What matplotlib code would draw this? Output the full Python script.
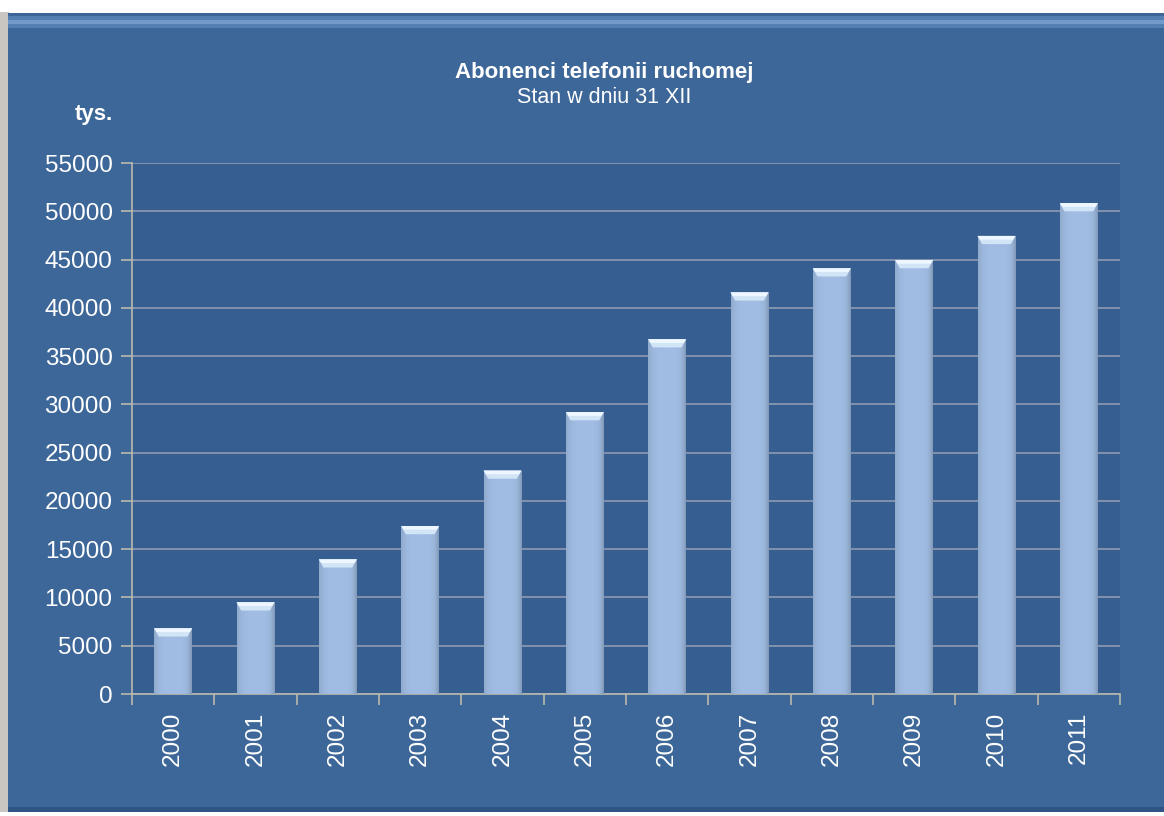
import numpy as np
import matplotlib
matplotlib.use("Agg")
import matplotlib.pyplot as plt
from matplotlib.patches import Rectangle, Polygon

years = ["2000", "2001", "2002", "2003", "2004", "2005",
         "2006", "2007", "2008", "2009", "2010", "2011"]
subscribers = [6800, 9500, 13950, 17400, 23150, 29200,
               36750, 41600, 44100, 44950, 47450, 50850]
y_ticks = list(range(0, 55001, 5000))

title = "Abonenci telefonii ruchomej"
subtitle = "Stan w dniu 31 XII"
unit = "tys."

plt.rcParams["font.family"] = ["Liberation Sans", "DejaVu Sans"]

PANEL = "#3d6798"
PLOT_BG = "#365e91"
GRID = "#8d9bb2"
SPINE = "#b9b9ac"

fig = plt.figure(figsize=(11.64, 8.16), dpi=100)
fig.patch.set_facecolor("white")

# grey shadow strip on the left and the blue panel
bg = [
    Rectangle((0, 0.005), 0.008, 0.98, facecolor="#c9c5c1"),
    Rectangle((0.007, 0.005), 0.993, 0.979, facecolor=PANEL),
    # bevel highlight along the top of the panel
    Rectangle((0.007, 0.966), 0.993, 0.014, facecolor="#5b86bb", alpha=0.8),
    Rectangle((0.007, 0.970), 0.993, 0.005, facecolor="#7aa2d2", alpha=0.8),
    Rectangle((0.007, 0.005), 0.993, 0.006, facecolor="#2e5384"),
]
for p in bg:
    p.set_transform(fig.transFigure)
    p.set_edgecolor("none")
    p.set_zorder(-10)
    fig.patches.append(p)

ax = fig.add_axes([0.1134, 0.1495, 0.8488, 0.6507])
ax.set_zorder(5)
ax.set_facecolor(PLOT_BG)

x = np.arange(len(years))
bar_w = 0.46
bars = ax.bar(x, subscribers, width=bar_w, color="#a0bde3", edgecolor="none", zorder=3)

# soft horizontal shading across each bar (darker near the edges)
g = np.linspace(-1, 1, 64)
shade = 1 - 0.10 * np.abs(g) ** 4 - 0.10 * np.clip(g, 0, None) ** 8
base = np.array([0.63, 0.74, 0.89])
img = (base[None, :] * shade[:, None])[None, :, :]
for b in bars:
    bx, by = b.get_x(), b.get_y()
    bw, bh = b.get_width(), b.get_height()
    im = ax.imshow(img, extent=(bx, bx + bw, by, by + bh), aspect="auto",
                   zorder=3.5, interpolation="bicubic")
    im.set_clip_path(b)

    # light bevelled cap on top of the bar
    top = by + bh
    cap = 850
    inset = bw * 0.12
    ax.add_patch(Polygon([(bx, top), (bx + bw, top), (bx + bw - inset, top - cap),
                          (bx + inset, top - cap)], closed=True,
                         facecolor="#d2e5f7", edgecolor="none", zorder=4))
    ax.add_patch(Polygon([(bx, top), (bx + bw, top), (bx + bw - inset * 0.5, top - cap * 0.45),
                          (bx + inset * 0.5, top - cap * 0.45)], closed=True,
                         facecolor="#eef7ff", edgecolor="none", zorder=4.1))

ax.set_xlim(-0.5, len(years) - 0.5)
ax.set_ylim(0, 55000)
ax.set_yticks(y_ticks)
ax.set_yticklabels([str(v) for v in y_ticks])
ax.yaxis.grid(True, color=GRID, linewidth=1.2, zorder=1)
ax.set_axisbelow(True)

ax.set_xticks(x)
ax.set_xticklabels(years, rotation=90)
ax.set_xticks(np.arange(-0.5, len(years), 1), minor=True)
ax.tick_params(axis="x", which="major", length=0, pad=13, labelsize=17.5,
               labelcolor="white")
ax.tick_params(axis="x", which="minor", length=8, color=SPINE, width=1.2)
ax.tick_params(axis="y", length=8, color=SPINE, width=1.2, pad=6,
               labelsize=17.5, labelcolor="white")

for side in ("top", "right"):
    ax.spines[side].set_visible(False)
for side in ("left", "bottom"):
    ax.spines[side].set_color(SPINE)
    ax.spines[side].set_linewidth(1.2)

fig.text(0.519, 0.911, title, ha="center", va="center", color="white",
         fontsize=16, fontweight="bold")
fig.text(0.519, 0.880, subtitle, ha="center", va="center", color="white",
         fontsize=15.5)
fig.text(0.097, 0.860, unit, ha="right", va="center", color="white",
         fontsize=16, fontweight="bold")

fig.savefig("out.png", dpi=100, facecolor=fig.get_facecolor())
